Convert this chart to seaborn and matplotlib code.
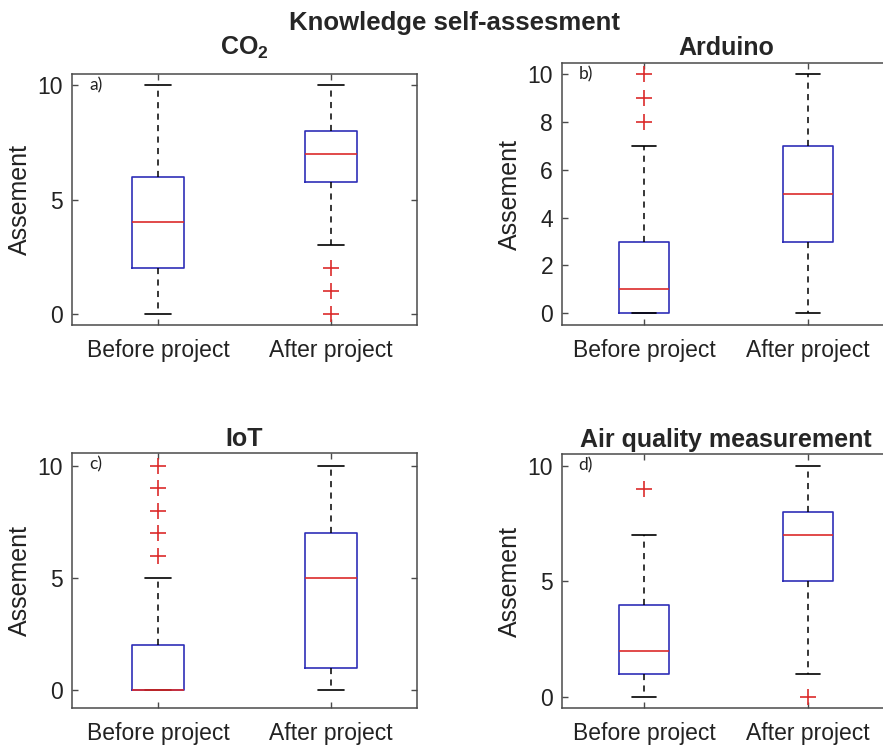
import matplotlib
matplotlib.use("Agg")
import matplotlib.pyplot as plt
import seaborn as sns

# ---------------------------------------------------------------------------
# Data (box summary per panel: [before, after])
# ---------------------------------------------------------------------------
GROUPS = ["Before project", "After project"]
PANEL_TITLES = [r"CO$_\mathbf{2}$", "Arduino", "IoT", "Air quality measurement"]
PANEL_TAGS = ["a)", "b)", "c)", "d)"]

MEDIANS = [[4, 7], [1, 5], [0, 5], [2, 7]]
Q1 = [[2, 5.75], [0, 3], [0, 1], [1, 5]]
Q3 = [[6, 8], [3, 7], [2, 7], [4, 8]]
WHIS_LO = [[0, 3], [0, 0], [0, 0], [0, 1]]
WHIS_HI = [[10, 10], [7, 10], [5, 10], [7, 10]]
FLIERS = [
    [[], [2, 1, 0]],
    [[8, 9, 10], []],
    [[6, 7, 8, 9, 10], []],
    [[9], [0]],
]
YTICKS = [[0, 5, 10], [0, 2, 4, 6, 8, 10], [0, 5, 10], [0, 5, 10]]

BLUE = "#2f2fb8"
RED = "#dc2b2b"
SPINE = "#4a4a4a"

sns.set_theme(style="ticks")
plt.rcParams["font.family"] = ["Liberation Sans", "DejaVu Sans"]
plt.rcParams["mathtext.fontset"] = "custom"
plt.rcParams["mathtext.rm"] = "Liberation Sans"
plt.rcParams["mathtext.bf"] = "Liberation Sans:bold"

fig = plt.figure(figsize=(8.83, 7.46), dpi=100)

# axes rectangles in figure fraction; right column runs past the edge like the original
AX_RECTS = [
    [0.0815, 0.5643, 0.3907, 0.3365],
    [0.6365, 0.5643, 0.3715, 0.3512],
    [0.0815, 0.0509, 0.3907, 0.3418],
    [0.6365, 0.0509, 0.3715, 0.3405],
]
YLIMS = [(-0.48, 10.48), (-0.49, 10.46), (-0.80, 10.57), (-0.48, 10.52)]
TITLE_PADS = [14, 6, 5, 5]

for i, rect in enumerate(AX_RECTS):
    ax = fig.add_axes(rect)
    stats = []
    for j, grp in enumerate(GROUPS):
        stats.append({
            "label": grp,
            "med": MEDIANS[i][j],
            "q1": Q1[i][j],
            "q3": Q3[i][j],
            "whislo": WHIS_LO[i][j],
            "whishi": WHIS_HI[i][j],
            "fliers": FLIERS[i][j],
        })
    ax.bxp(
        stats, positions=[1, 2], widths=0.3, manage_ticks=False,
        boxprops=dict(color=BLUE, linewidth=1.2),
        medianprops=dict(color=RED, linewidth=1.2),
        whiskerprops=dict(color="black", linewidth=1.1, linestyle=(0, (4, 3.5))),
        capprops=dict(color="black", linewidth=1.2),
        flierprops=dict(marker="+", markeredgecolor=RED, markersize=11,
                        markeredgewidth=1.2, linestyle="none"),
    )
    ax.set_xlim(0.5, 2.5)
    ax.set_ylim(*YLIMS[i])
    ax.set_xticks([1, 2])
    ax.set_xticklabels(GROUPS)
    ax.set_yticks(YTICKS[i])
    ax.tick_params(direction="in", top=True, right=True, length=4, width=1,
                   color=SPINE, labelsize=16.5, labelcolor="#222222")
    ax.tick_params(axis="x", pad=10)
    ax.tick_params(axis="y", pad=6.5)
    for sp in ax.spines.values():
        sp.set_color(SPINE)
        sp.set_linewidth(1.1)
    if i % 2 == 1:
        # the original is cropped before the right frame of these panels
        ax.spines["right"].set_visible(False)
        ax.tick_params(right=False)
    ax.set_ylabel("Assement", fontsize=18, color="#222222", labelpad=4)
    ax.set_title(PANEL_TITLES[i], fontsize=18, fontweight="bold", pad=TITLE_PADS[i])
    ax.text(0.05, 0.955, PANEL_TAGS[i], transform=ax.transAxes, ha="left", va="center",
            fontsize=12.5, family=["Lato", "DejaVu Sans"], color="#222222")

fig.text(0.515, 1 - 30 / 746, "Knowledge self-assesment", ha="center", va="baseline",
         fontsize=18.5, fontweight="bold")

fig.savefig("out.png", dpi=100)
plt.close(fig)
